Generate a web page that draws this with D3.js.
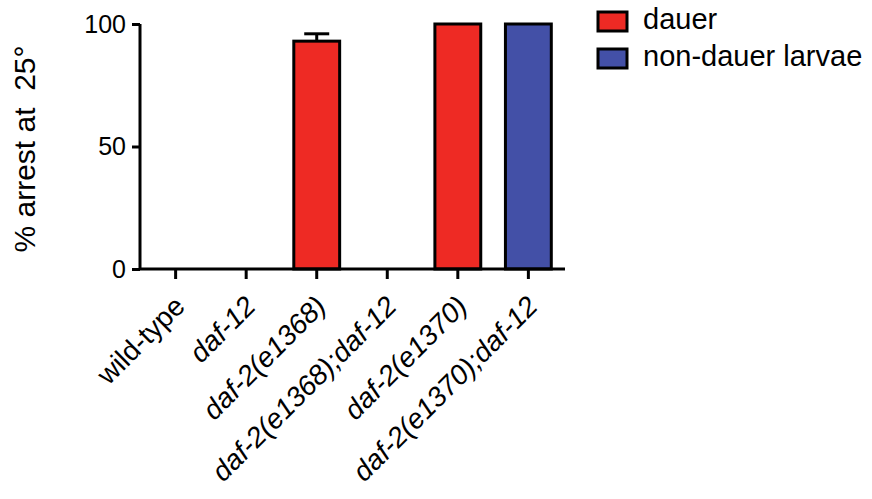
<!DOCTYPE html>
<html>
<head>
<meta charset="utf-8">
<script src="https://cdn.jsdelivr.net/npm/d3@7"></script>
<style>
  body { margin: 0; background: white; }
  text { font-family: "Liberation Sans", Arial, sans-serif; }
</style>
</head>
<body>
<script>
// strains along the x axis
const strains = ["wild-type", "daf-12", "daf-2(e1368)", "daf-2(e1368);daf-12", "daf-2(e1370)", "daf-2(e1370);daf-12"]
const arrest = [0, 0, 93, 0, 100, 100]
const errUp = [0, 0, 3, 0, 0, 0]
const phenotype = ["dauer", "dauer", "dauer", "dauer", "dauer", "non-dauer larvae"]
const yTicks = [0, 50, 100]
const legendItems = ["dauer", "non-dauer larvae"]

const W = 872, H = 499
const c = {
    red:   "#ee2a24",
    blue:  "#4350a7",
    black: "#000000",
}

const svg = d3.select("body").append("svg")
    .attr("width", W)
    .attr("height", H)

const x = d3.scaleBand()
    .domain(strains)
    .range([140, 564])
    .paddingInner(0.35)
    .paddingOuter(0.18)

const y = d3.scaleLinear()
    .domain([0, 100])
    .range([269, 24])

const color = d3.scaleOrdinal()
    .domain(legendItems)
    .range([c.red, c.blue])

const data = strains.map((s, i) => ({ s, v: arrest[i], e: errUp[i], p: phenotype[i] }))

// bars
svg.append("g")
  .selectAll("rect")
  .data(data.filter(d => d.v > 0))
  .join("rect")
    .attr("x", d => x(d.s))
    .attr("y", d => y(d.v))
    .attr("width", x.bandwidth())
    .attr("height", d => y(0) - y(d.v))
    .attr("fill", d => color(d.p))
    .attr("stroke", c.black)
    .attr("stroke-width", 3)

// error bars (upper only)
const eb = svg.append("g")
    .attr("stroke", c.black)
    .attr("stroke-width", 3)
  .selectAll("g")
  .data(data.filter(d => d.e > 0))
  .join("g")
eb.append("line")
    .attr("x1", d => x(d.s) + x.bandwidth() / 2)
    .attr("x2", d => x(d.s) + x.bandwidth() / 2)
    .attr("y1", d => y(d.v))
    .attr("y2", d => y(d.v + d.e))
eb.append("line")
    .attr("x1", d => x(d.s) + x.bandwidth() / 2 - 12.5)
    .attr("x2", d => x(d.s) + x.bandwidth() / 2 + 12.5)
    .attr("y1", d => y(d.v + d.e))
    .attr("y2", d => y(d.v + d.e))

// y axis
const yAxis = svg.append("g")
    .attr("transform", "translate(140,0)")
    .call(d3.axisLeft(y).tickValues(yTicks).tickSize(8).tickPadding(6))
yAxis.selectAll("path, line").attr("stroke", c.black).attr("stroke-width", 3)
yAxis.select(".domain").attr("d", `M0,${y(100)}V${y(0)}`)
yAxis.selectAll("text")
    .attr("font-size", 25)
    .attr("font-family", "Liberation Sans, Arial, sans-serif")
    .attr("fill", c.black)

// x axis
const xAxis = svg.append("g")
    .attr("transform", `translate(0,${y(0)})`)
    .call(d3.axisBottom(x).tickSize(10).tickSizeOuter(0))
xAxis.selectAll("path, line").attr("stroke", c.black).attr("stroke-width", 3)
xAxis.select(".domain").attr("d", `M140,0H565`)
xAxis.selectAll("text")
    .attr("font-size", 28)
    .attr("font-family", "Liberation Sans, Arial, sans-serif")
    .attr("font-style", d => d === "wild-type" ? "normal" : "italic")
    .attr("fill", c.black)
    .attr("text-anchor", "end")
    .attr("dy", 0)
    .attr("transform", "translate(11,39) rotate(-45)")
    .attr("y", 0)
    .attr("x", 0)

// y label
svg.append("text")
    .attr("transform", `translate(35,149) rotate(-90)`)
    .attr("text-anchor", "middle")
    .attr("font-size", 30)
    .attr("fill", c.black)
    .attr("xml:space", "preserve")
    .text("% arrest at  25°")

// legend
const lg = svg.append("g")
  .selectAll("g")
  .data(legendItems)
  .join("g")
    .attr("transform", (d, i) => `translate(598,${12 + i * 37})`)
lg.append("rect")
    .attr("width", 29)
    .attr("height", 19)
    .attr("fill", d => color(d))
    .attr("stroke", c.black)
    .attr("stroke-width", 3)
lg.append("text")
    .attr("x", 45)
    .attr("y", 17)
    .attr("font-size", 29)
    .attr("fill", c.black)
    .text(d => d)
</script>
</body>
</html>
